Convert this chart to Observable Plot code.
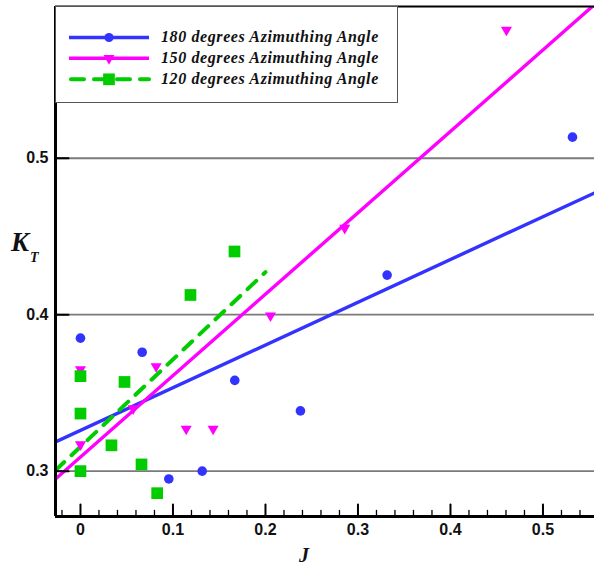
<!DOCTYPE html>
<html><head><meta charset="utf-8">
<script src="https://cdn.jsdelivr.net/npm/d3@7"></script>
<script src="https://cdn.jsdelivr.net/npm/@observablehq/plot@0.6"></script>
<style>
body{margin:0;background:#fff;}
#wrap{position:relative;width:594px;height:569px;overflow:hidden;background:#fff;}
#legend{position:absolute;left:55px;top:6px;}
</style></head>
<body><div id="wrap"><div id="chart"></div><div id="legend"></div></div>
<script>
// ---- data ----
const seriesNames = ["180 degrees Azimuthing Angle", "150 degrees Azimuthing Angle", "120 degrees Azimuthing Angle"];
const seriesColors = ["#3333ff", "#ff00ff", "#00cc00"];
const seriesSymbols = ["circle", "triangle", "square"];

const J180 = [0, 0.0667, 0.0955, 0.1316, 0.1668, 0.2378, 0.3315, 0.5319];
const K180 = [0.385, 0.376, 0.295, 0.300, 0.358, 0.3385, 0.4253, 0.5135];

const J150 = [0, 0, 0.057, 0.0818, 0.1143, 0.1434, 0.2054, 0.2857, 0.4605];
const K150 = [0.365, 0.317, 0.340, 0.367, 0.327, 0.327, 0.3994, 0.4554, 0.582];

const J120 = [0, 0, 0, 0.0335, 0.0476, 0.066, 0.0829, 0.1189, 0.1665];
const K120 = [0.3607, 0.3368, 0.300, 0.3165, 0.357, 0.3043, 0.2859, 0.4126, 0.4404];

// linear fits (intercept at J=0, slope) and their J extent
const fitIntercept = [0.326, 0.309, 0.3156];
const fitSlope = [0.2732, 0.5205, 0.558];
const fitJStart = [-0.027, -0.027, -0.027];
const fitJEnd = [0.5557, 0.5557, 0.2];

const xTicks = [0, 0.1, 0.2, 0.3, 0.4, 0.5];
const xTickLabels = ["0", "0.1", "0.2", "0.3", "0.4", "0.5"];
const xMinorTicks = [-0.02, 0.02, 0.04, 0.06, 0.08, 0.12, 0.14, 0.16, 0.18, 0.22, 0.24, 0.26, 0.28, 0.32, 0.34, 0.36, 0.38, 0.42, 0.44, 0.46, 0.48, 0.52, 0.54];
const yTicks = [0.3, 0.4, 0.5];
const yTickLabels = ["0.3", "0.4", "0.5"];
const xDomain = [-0.027, 0.5557];
const yDomain = [0.271, 0.597];

// ---- build tables ----
const Js = [J180, J150, J120], Ks = [K180, K150, K120];
const points = [];
Js.forEach((arr, s) => arr.forEach((j, i) => points.push({series: s, J: j, K: Ks[s][i]})));
const fits = [];
seriesNames.forEach((n, s) => {
  fits.push({series: s, J: fitJStart[s], K: fitIntercept[s] + fitSlope[s] * fitJStart[s]});
  fits.push({series: s, J: fitJEnd[s], K: fitIntercept[s] + fitSlope[s] * fitJEnd[s]});
});

const tickShape = {draw(ctx, l) { ctx.moveTo(0, 0); ctx.lineTo(0, -l); }};
const sans = "'Liberation Sans', Arial, Helvetica, sans-serif";
const serif = "'Liberation Serif', 'Times New Roman', 'DejaVu Serif', serif";

const fitMark = (s, extra = {}) => Plot.line(fits.filter(d => d.series === s), {
  x: "J", y: "K", stroke: seriesColors[s], strokeWidth: 3.4, clip: true, ...extra
});
const dotMark = (s, extra = {}) => Plot.dot(points.filter(d => d.series === s), {
  x: "J", y: "K", symbol: seriesSymbols[s], fill: seriesColors[s], stroke: null, clip: true, ...extra
});

const chart = Plot.plot({
  width: 594, height: 569,
  marginLeft: 55, marginRight: 0, marginTop: 6, marginBottom: 53,
  x: {domain: xDomain},
  y: {domain: yDomain},
  style: {fontFamily: sans, background: "white"},
  marks: [
    Plot.ruleY(yTicks, {stroke: "#7a7a7a", strokeWidth: 1.8}),
    fitMark(0),
    fitMark(1),
    fitMark(2, {strokeWidth: 4, strokeDasharray: "12,10", strokeLinecap: "round"}),
    dotMark(0, {r: 4.8}),
    dotMark(1, {r: 4.1, rotate: 180}),
    dotMark(2, {r: 6.6}),
    // frame lines
    Plot.ruleX([xDomain[0]], {stroke: "black", strokeWidth: 3}),
    Plot.ruleY([yDomain[0]], {stroke: "black", strokeWidth: 3}),
    Plot.ruleY([yDomain[1]], {stroke: "black", strokeWidth: 2}),
    // inward ticks
    Plot.vector(xTicks, {x: d => d, frameAnchor: "bottom", length: 12, rotate: 0, anchor: "start", shape: tickShape, stroke: "black", strokeWidth: 2}),
    Plot.vector(xMinorTicks, {x: d => d, frameAnchor: "bottom", length: 6, rotate: 0, anchor: "start", shape: tickShape, stroke: "black", strokeWidth: 1.3}),
    Plot.vector(yTicks, {y: d => d, frameAnchor: "left", length: 13, rotate: 90, anchor: "start", shape: tickShape, stroke: "black", strokeWidth: 2}),
    Plot.axisX({ticks: xTicks, tickFormat: d => xTickLabels[xTicks.indexOf(d)], tickSize: 0, tickPadding: 7, fontSize: 16, fontWeight: "bold", label: null, fill: "#111"}),
    Plot.axisY({ticks: yTicks, tickFormat: d => yTickLabels[yTicks.indexOf(d)], tickSize: 0, tickPadding: 7, fontSize: 16, fontWeight: "bold", label: null, fill: "#111"})
  ]
});
document.getElementById("chart").appendChild(chart);

// axis titles
const svg = d3.select(chart);
const kt = svg.append("text").attr("x", 11).attr("y", 251).attr("text-anchor", "start")
  .attr("font-family", serif).attr("font-style", "italic").attr("font-weight", "bold").attr("fill", "#111");
kt.append("tspan").attr("font-size", 27).text("K");
kt.append("tspan").attr("font-size", 14).attr("dy", 11).attr("dx", 1).text("T");
svg.append("text").attr("x", 304).attr("y", 562).attr("text-anchor", "middle")
  .attr("font-family", serif).attr("font-style", "italic").attr("font-weight", "bold")
  .attr("font-size", 20).attr("fill", "#111").text("J");

// legend
const leg = d3.select("#legend").append("svg").attr("width", 343).attr("height", 97);
leg.append("rect").attr("x", 0.5).attr("y", 0.5).attr("width", 342).attr("height", 96)
  .attr("fill", "white").attr("stroke", "#555").attr("stroke-width", 1);
const rowY = [31.5, 52.3, 73.3];
const symTypes = {circle: d3.symbolCircle, triangle: d3.symbolTriangle, square: d3.symbolSquare};
const symR = [4.6, 4.1, 6.6];
seriesNames.forEach((name, s) => {
  const g = leg.append("g").attr("transform", `translate(0,${rowY[s]})`);
  g.append("line").attr("x1", 14).attr("x2", 94).attr("y1", 0).attr("y2", 0)
    .attr("stroke", seriesColors[s]).attr("stroke-width", s === 2 ? 4 : 3.4)
    .attr("stroke-dasharray", s === 2 ? "13,10" : null)
    .attr("stroke-linecap", s === 2 ? "round" : null)
    .attr("stroke-dashoffset", s === 2 ? -2 : null);
  g.append("path").attr("d", d3.symbol(symTypes[seriesSymbols[s]], Math.PI * symR[s] * symR[s])())
    .attr("transform", `translate(54,0)${s === 1 ? " rotate(180)" : ""}`)
    .attr("fill", seriesColors[s]);
  g.append("text").attr("x", 106).attr("y", 4.5).attr("text-anchor", "start")
    .attr("font-family", serif).attr("font-style", "italic").attr("font-weight", "bold")
    .attr("font-size", 16).attr("letter-spacing", 0.6).attr("fill", "#111").text(name);
});
</script>
</body></html>
